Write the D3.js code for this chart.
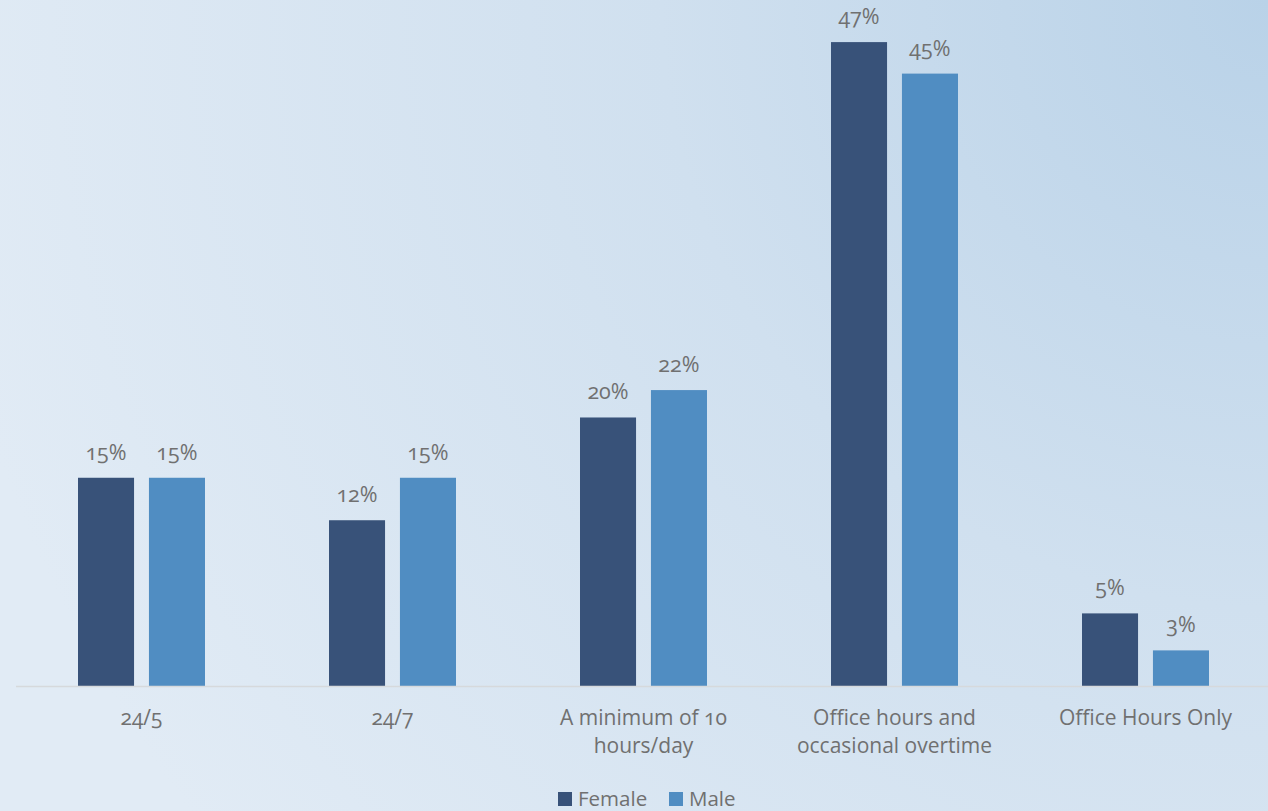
<!DOCTYPE html>
<html>
<head>
<meta charset="utf-8">
<script src="https://cdn.jsdelivr.net/npm/d3@7"></script>
<style>
  html, body { margin: 0; padding: 0; }
  body { width: 1268px; height: 811px; overflow: hidden; }
  svg text { font-family: "Open Sans", "Noto Sans", sans-serif; font-feature-settings: "onum"; }
</style>
</head>
<body>
<svg id="chart" width="1268" height="811"></svg>
<script>
// Working-hours expectations by gender (share of respondents)
const categories = ["24/5", "24/7", "A minimum of 10 hours/day", "Office hours and occasional overtime", "Office Hours Only"];
const categoryLines = [["24/5"], ["24/7"], ["A minimum of 10", "hours/day"], ["Office hours and", "occasional overtime"], ["Office Hours Only"]];
const seriesNames = ["Female", "Male"];
const female = [0.152, 0.121, 0.196, 0.470, 0.053];
const male = [0.152, 0.152, 0.216, 0.447, 0.026];

const W = 1268, H = 811;
const svg = d3.select("#chart");

// Background wash, deepest toward the top-right corner
const defs = svg.append("defs");
const grad = defs.append("radialGradient")
  .attr("id", "bg").attr("gradientUnits", "userSpaceOnUse")
  .attr("cx", 1268).attr("cy", 0).attr("r", 1350);
grad.append("stop").attr("offset", "0%").attr("stop-color", "#b9d2e8");
grad.append("stop").attr("offset", "45%").attr("stop-color", "#d0e0ef");
grad.append("stop").attr("offset", "100%").attr("stop-color", "#e1ebf5");
svg.append("rect").attr("width", W).attr("height", H).attr("fill", "url(#bg)");

const colors = d3.scaleOrdinal().domain(seriesNames).range(["#385279", "#508dc2"]);

const x0 = d3.scaleBand().domain(categories).range([16, 1271]).paddingInner(0).paddingOuter(0);
const x1 = d3.scaleBand().domain(seriesNames).range([x0.bandwidth() / 2 - 63.5, x0.bandwidth() / 2 + 63.5]).paddingInner(0.21).paddingOuter(0);
const y = d3.scaleLinear().domain([0, 0.5]).range([686, 1]);

const rows = categories.map((c, i) => ({ cat: c, lines: categoryLines[i], vals: [female[i], male[i]] }));
const fmt = d3.format(".0%");
const textColor = "#707070";

const groups = svg.append("g").selectAll("g").data(rows).join("g")
  .attr("transform", d => `translate(${x0(d.cat)},0)`);

const bars = groups.selectAll("g.bar")
  .data(d => d.vals.map((v, j) => ({ key: seriesNames[j], v })))
  .join("g").attr("class", "bar");

bars.append("rect")
  .attr("x", d => x1(d.key))
  .attr("width", x1.bandwidth())
  .attr("y", d => y(d.v))
  .attr("height", d => y(0) - y(d.v))
  .attr("fill", d => colors(d.key));

bars.append("text")
  .attr("x", d => x1(d.key) + x1.bandwidth() / 2)
  .attr("y", d => y(d.v) - 18)
  .attr("text-anchor", "middle")
  .attr("font-size", 21.5)
  .attr("fill", textColor)
  .text(d => fmt(d.v));

// Category axis
svg.append("line")
  .attr("x1", 16).attr("x2", W).attr("y1", y(0) + 0.5).attr("y2", y(0) + 0.5)
  .attr("stroke", "#d6d9dc").attr("stroke-width", 1.5);

const xlab = svg.append("g").selectAll("text").data(rows).join("text")
  .attr("x", d => x0(d.cat) + x0.bandwidth() / 2)
  .attr("y", 725)
  .attr("text-anchor", "middle")
  .attr("font-size", 21)
  .attr("fill", textColor);
xlab.selectAll("tspan").data(d => d.lines).join("tspan")
  .attr("x", function () { return this.parentNode.getAttribute("x"); })
  .attr("dy", (d, i) => i === 0 ? 0 : 28)
  .text(d => d);

// Legend
const legendX = [558, 669];
const legend = svg.append("g").selectAll("g").data(seriesNames).join("g")
  .attr("transform", (d, i) => `translate(${legendX[i]},792)`);
legend.append("rect").attr("width", 14).attr("height", 14).attr("fill", d => colors(d));
legend.append("text").attr("x", 20).attr("y", 14)
  .attr("font-size", 20.5).attr("fill", textColor).text(d => d);
</script>
</body>
</html>
